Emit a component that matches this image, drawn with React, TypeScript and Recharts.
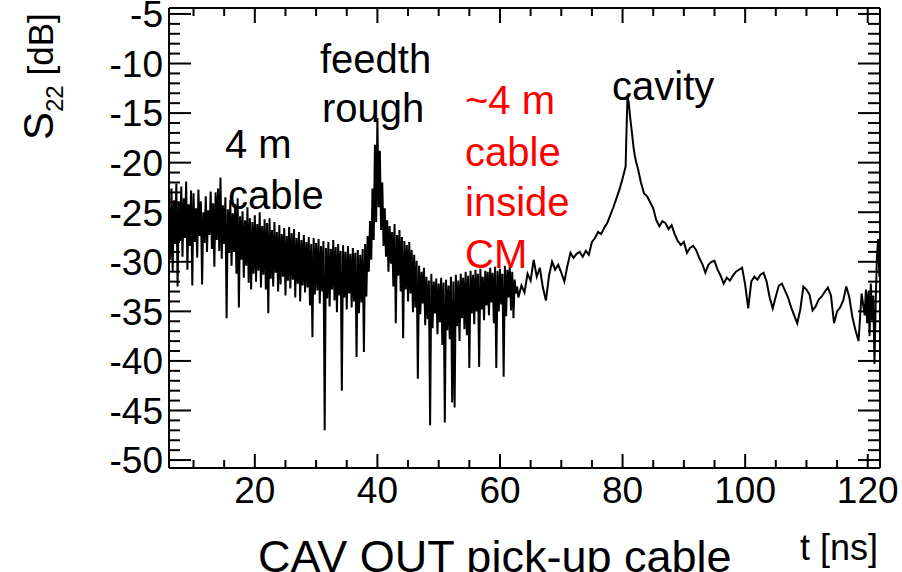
import React from 'react';
import { LineChart, Line, XAxis, YAxis } from 'recharts';

const FONT = '"Liberation Sans", Arial, Helvetica, sans-serif';

// S22 reflection trace [dB], sampled on uniform time grids [ns]
// 6.0 – 37.8 ns, step 0.2: the 4 m cable in front of the feedthrough
const nearCable = [
  -24.5, -29.8, -22.6, -31.0, -23.8, -28.2, -22.1, -32.5, -24.0, -27.9,
  -22.4, -29.5, -23.6, -27.6, -21.9, -30.8, -24.2, -28.4, -22.8, -32.4,
  -23.1, -28.0, -24.6, -29.6, -22.7, -27.4, -23.9, -32.3, -25.0, -28.1,
  -23.4, -29.0, -24.8, -27.3, -22.9, -28.7, -24.1, -30.5, -23.0, -27.8,
  -22.6, -28.9, -21.5, -29.7, -24.3, -28.2, -23.5, -35.7, -24.7, -29.1,
  -23.8, -30.4, -25.1, -29.0, -24.2, -31.2, -23.6, -34.6, -25.4, -29.8,
  -24.9, -31.6, -25.8, -30.4, -24.5, -32.1, -25.6, -32.8, -26.0, -31.2,
  -25.3, -32.0, -26.2, -30.9, -25.0, -32.6, -26.4, -31.3, -25.7, -32.8,
  -26.1, -35.2, -25.6, -31.7, -26.8, -32.5, -26.0, -31.1, -27.0, -33.0,
  -26.3, -32.3, -27.2, -31.5, -26.6, -33.4, -27.4, -31.9, -26.5, -32.7,
  -27.1, -31.8, -26.7, -33.6, -27.6, -32.2, -27.0, -34.0, -27.8, -32.4,
  -27.3, -33.1, -28.0, -32.6, -27.5, -34.4, -28.2, -37.6, -27.6, -33.3,
  -28.1, -32.9, -27.7, -34.2, -28.4, -33.0, -27.9, -47.0, -28.6, -33.7,
  -28.0, -34.5, -28.7, -32.8, -27.8, -33.9, -28.5, -35.1, -28.2, -33.4,
  -28.9, -43.0, -28.3, -33.6, -29.0, -34.8, -28.4, -33.2, -29.2, -34.6,
  -28.6, -34.0, -29.1, -39.6, -28.8, -35.2, -29.3, -34.1, -28.7, -39.1,
];

// 38.0 – 41.8 ns, step 0.2: feedthrough reflection
const feedthrough = [
  -28.2, -33.5, -27.4, -31.0, -25.9, -29.8, -22.6, -27.8, -18.2, -26.0,
  -15.5, -24.5, -18.8, -26.8, -22.0, -28.4, -24.6, -29.5, -25.8, -31.0,
];

// 42.0 – 62.8 ns, step 0.2: cable inside the cryomodule
const insideCM = [
  -26.4, -30.2, -27.0, -32.5, -26.2, -36.2, -27.3, -31.4, -26.8, -33.0,
  -27.5, -37.7, -27.9, -32.8, -28.3, -34.0, -28.0, -33.2, -28.8, -35.1,
  -29.3, -34.6, -29.9, -41.8, -30.4, -35.3, -31.0, -34.2, -30.6, -36.4,
  -31.5, -35.8, -31.9, -46.5, -31.2, -36.7, -32.0, -35.2, -31.7, -37.3,
  -32.2, -36.1, -31.6, -38.4, -32.1, -46.2, -31.8, -36.9, -32.4, -37.8,
  -31.5, -44.2, -32.0, -44.7, -31.3, -36.5, -31.9, -38.0, -31.2, -35.7,
  -31.6, -36.8, -31.0, -37.4, -31.4, -40.7, -30.9, -35.2, -31.3, -36.3,
  -30.8, -35.0, -31.2, -40.6, -30.7, -34.8, -31.5, -35.9, -30.9, -34.4,
  -31.0, -35.4, -30.6, -34.1, -31.1, -36.2, -30.5, -40.7, -30.9, -35.0,
  -30.7, -34.3, -31.2, -41.6, -30.4, -35.5, -30.8, -33.6, -30.5, -34.9,
  -31.0, -35.7, -31.8, -33.2, -32.5,
];

// 63.0 – 80.5 ns, step 0.5: rising edge towards the cavity
const cavityRise = [
  -33.6, -32.4, -33.1, -31.2, -31.9, -29.8, -31.5, -30.6, -32.6, -33.9,
  -31.4, -30.0, -30.8, -30.3, -31.1, -32.0, -30.4, -29.1, -29.6, -29.2,
  -29.0, -29.5, -28.9, -29.3, -28.0, -27.6, -27.0, -27.2, -26.6, -26.1,
  -25.3, -24.5, -23.6, -22.7, -21.6, -20.4,
];

// 80.6 – 82.2 ns, step 0.2: cavity reflection
const cavityPeak = [-17.8, -13.4, -13.9, -15.2, -16.3, -17.4, -18.5, -19.3, -19.9];

// 82.5 – 119.5 ns, step 0.5: decay after the cavity
const tail = [
  -20.6, -22.0, -23.1, -23.4, -24.0, -24.6, -25.8, -26.4, -25.9, -26.1,
  -26.7, -26.3, -27.2, -27.9, -28.3, -28.0, -29.1, -28.6, -28.4, -28.8,
  -29.6, -30.2, -31.1, -30.3, -30.0, -29.9, -30.8, -31.4, -32.2, -31.6,
  -31.9, -31.4, -31.0, -30.8, -30.6, -32.3, -34.7, -32.0, -31.5, -31.8,
  -31.3, -31.1, -32.0, -33.6, -34.7, -33.5, -32.4, -32.2, -32.9, -33.6,
  -34.6, -35.4, -36.2, -34.8, -32.5, -32.8, -33.3, -34.9, -34.5, -33.8,
  -33.5, -33.0, -32.6, -33.4, -36.2, -35.0, -34.6, -33.9, -32.5, -33.6,
  -35.6, -36.9, -38.0, -33.2, -35.4,
];

// 119.7 – 121.9 ns, step 0.2: end of the record
const edge = [-32.8, -36.2, -33.0, -37.5, -32.2, -35.9, -33.4, -40.3, -34.0, -29.5, -27.7, -31.5];

const segment = (start: number, step: number, values: number[]) =>
  values.map((s22, i) => ({ t: +(start + i * step).toFixed(2), s22 }));

const rows = [
  ...segment(6.0, 0.2, nearCable),
  ...segment(38.0, 0.2, feedthrough),
  ...segment(42.0, 0.2, insideCM),
  ...segment(63.0, 0.5, cavityRise),
  ...segment(80.6, 0.2, cavityPeak),
  ...segment(82.5, 0.5, tail),
  ...segment(119.7, 0.2, edge),
];

const T_DOMAIN: [number, number] = [6, 122];
const S_DOMAIN: [number, number] = [-50.8, -4.4];
const tMajor = [20, 40, 60, 80, 100, 120];
const sMajor = [-50, -45, -40, -35, -30, -25, -20, -15, -10, -5];

const tTicks: number[] = [];
for (let t = 10; t <= 120; t += 5) tTicks.push(t);
const sTicks: number[] = [];
for (let s = -50; s <= -5; s += 1) sTicks.push(s);

const BottomTick = ({ x, y, payload }: any) => {
  const major = tMajor.includes(payload.value);
  return (
    <g>
      <line x1={x} y1={y} x2={x} y2={y - (major ? 14 : 8)} stroke="#000" strokeWidth={2} />
      {major && (
        <text x={x} y={y + 35} textAnchor="middle" fontSize={37} fontFamily={FONT} fill="#000">
          {payload.value}
        </text>
      )}
    </g>
  );
};

const TopTick = ({ x, y, payload }: any) => {
  const major = tMajor.includes(payload.value);
  return <line x1={x} y1={y} x2={x} y2={y + (major ? 15 : 8)} stroke="#000" strokeWidth={2} />;
};

const LeftTick = ({ x, y, payload }: any) => {
  const major = sMajor.includes(payload.value);
  return (
    <g>
      <line x1={x} y1={y} x2={x + (major ? 22 : 11)} y2={y} stroke="#000" strokeWidth={2} />
      {major && (
        <text x={x - 6} y={y} dy="0.36em" textAnchor="end" fontSize={37} fontFamily={FONT} fill="#000">
          {payload.value}
        </text>
      )}
    </g>
  );
};

const RightTick = ({ x, y, payload }: any) => {
  const major = sMajor.includes(payload.value);
  return <line x1={x} y1={y} x2={x - (major ? 22 : 12)} y2={y} stroke="#000" strokeWidth={2} />;
};

const frame = { stroke: '#000', strokeWidth: 2 };

const notes = [
  { text: '4 m', x: 225, y: 158, color: '#000' },
  { text: 'cable', x: 228, y: 209, color: '#000' },
  { text: 'feedth', x: 320, y: 73, color: '#000' },
  { text: 'rough', x: 322, y: 122, color: '#000' },
  { text: '~4 m', x: 465, y: 114, color: '#ff0000' },
  { text: 'cable', x: 465, y: 166, color: '#ff0000' },
  { text: 'inside', x: 465, y: 216, color: '#ff0000' },
  { text: 'CM', x: 465, y: 268, color: '#ff0000' },
  { text: 'cavity', x: 612, y: 100, color: '#000' },
];

export default function App() {
  return (
    <div style={{ position: 'absolute', left: 0, top: 0, width: 902, height: 572, background: '#fff' }}>
      <LineChart width={902} height={572} data={rows} margin={{ top: 0, right: 0, bottom: 0, left: 0 }}>
        <XAxis
          xAxisId="b"
          dataKey="t"
          type="number"
          domain={T_DOMAIN}
          allowDataOverflow
          ticks={tTicks}
          interval={0}
          tickSize={0}
          tickMargin={0}
          tickLine={false}
          axisLine={frame}
          tick={(p: any) => <BottomTick {...p} />}
          height={104}
        />
        <XAxis
          xAxisId="top"
          orientation="top"
          dataKey="t"
          type="number"
          domain={T_DOMAIN}
          allowDataOverflow
          ticks={tTicks}
          interval={0}
          tickSize={0}
          tickMargin={0}
          tickLine={false}
          axisLine={frame}
          tick={(p: any) => <TopTick {...p} />}
          height={8}
        />
        <YAxis
          yAxisId="l"
          type="number"
          domain={S_DOMAIN}
          allowDataOverflow
          ticks={sTicks}
          interval={0}
          tickSize={0}
          tickMargin={0}
          tickLine={false}
          axisLine={frame}
          tick={(p: any) => <LeftTick {...p} />}
          width={169}
        />
        <YAxis
          yAxisId="r"
          orientation="right"
          type="number"
          domain={S_DOMAIN}
          allowDataOverflow
          ticks={sTicks}
          interval={0}
          tickSize={0}
          tickMargin={0}
          tickLine={false}
          axisLine={frame}
          tick={(p: any) => <RightTick {...p} />}
          width={22}
        />
        <Line
          xAxisId="b"
          yAxisId="l"
          dataKey="s22"
          type="linear"
          stroke="#000"
          strokeWidth={2}
          dot={false}
          activeDot={false}
          isAnimationActive={false}
        />
      </LineChart>
      <svg
        width={902}
        height={572}
        style={{ position: 'absolute', left: 0, top: 0, pointerEvents: 'none' }}
        fontFamily={FONT}
      >
        {notes.map((n, i) => (
          <text key={i} x={n.x} y={n.y} fontSize={40} fill={n.color}>
            {n.text}
          </text>
        ))}
        <text transform="translate(53, 140) rotate(-90)" fill="#000">
          <tspan fontSize={42}>S</tspan>
          <tspan fontSize={24} dy={10}>22</tspan>
          <tspan fontSize={35} dy={-10}> [dB]</tspan>
        </text>
        <text x={878} y={560} textAnchor="end" fontSize={36} fill="#000">t [ns]</text>
        <text x={258} y={572} fontSize={45} fill="#000">CAV OUT pick-up cable</text>
      </svg>
    </div>
  );
}
